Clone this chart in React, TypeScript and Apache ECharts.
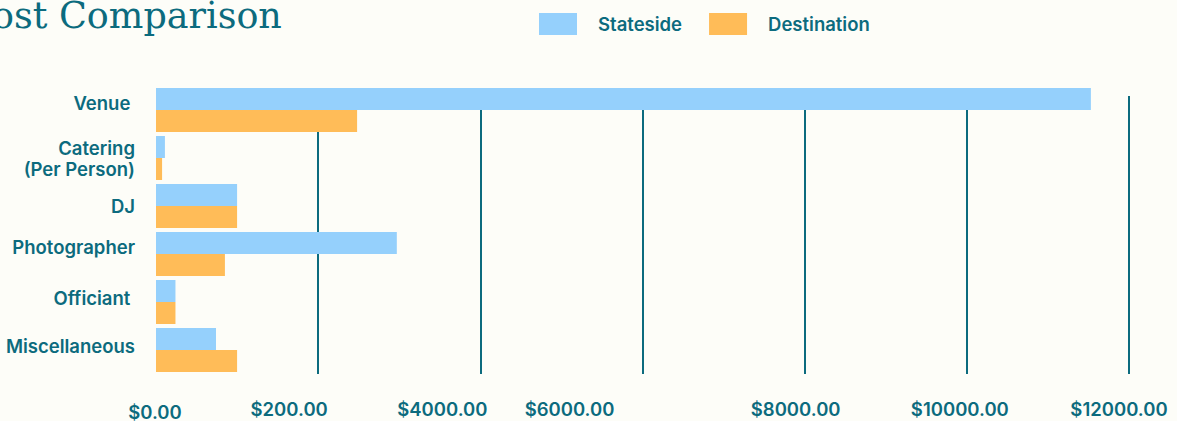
import React, { useEffect, useRef } from "react";
import * as echarts from "echarts";

const categories = ["Venue ", "Catering\n(Per Person)", "DJ", "Photographer", "Officiant ", "Miscellaneous"];
const seriesNames = ["Stateside", "Destination"];
const stateside = [11530, 110, 1000, 2970, 240, 740];
const destination = [2480, 75, 1000, 850, 240, 1000];
const xTickLabels = ["$0.00", "$200.00", "$4000.00", "$6000.00", "$8000.00", "$10000.00", "$12000.00"];
const titleText = "Cost Comparison";

const TEAL = "#0c6b7e";
const BLUE = "#95d0fc";
const ORANGE = "#ffbc58";
const BG = "#fdfdf8";
const SANS = "Inter, 'Noto Sans', sans-serif";
const FS = 18.5;
const FW = 600;

// horizontal shift (px, to the left) of each tick label, as in the source design
const xLabelShift = [1, 29, 38, 73, 9, 7, 10];
// vertical shift (px, upwards) of each category label, as in the source design
const yLabelShift = [7, 0, 0, 7, 4, 4];

export default function App() {
  const ref = useRef<HTMLDivElement>(null);
  useEffect(() => {
    if (!ref.current) return;
    const chart = echarts.init(ref.current, undefined, { renderer: "svg" });
    const xRich: Record<string, any> = {};
    xTickLabels.forEach((_, i) => {
      xRich["t" + i] = {
        color: TEAL,
        fontSize: FS,
        fontWeight: FW,
        fontFamily: SANS,
        padding: [i === 0 ? 3 : 0, xLabelShift[i] * 2, 0, 0],
      };
    });
    const yRich: Record<string, any> = {};
    categories.forEach((_, i) => {
      yRich["c" + i] = {
        color: TEAL,
        fontSize: FS,
        fontWeight: FW,
        fontFamily: SANS,
        padding: [0, 0, yLabelShift[i] * 2, 0],
      };
    });
    chart.setOption({
      animation: false,
      backgroundColor: BG,
      graphic: [
        {
          type: "text",
          x: -36,
          y: -3,
          style: {
            text: titleText,
            fill: TEAL,
            font: "36.5px 'DejaVu Serif', serif",
            verticalAlign: "top",
          },
        },
      ],
      legend: {
        data: seriesNames,
        left: 539,
        top: 13,
        padding: 0,
        icon: "rect",
        itemWidth: 38,
        itemHeight: 22,
        itemGap: 27,
        textStyle: {
          color: TEAL,
          fontSize: FS,
          fontWeight: FW,
          fontFamily: SANS,
          padding: [0, 0, 0, 16],
        },
      },
      grid: [
        { left: 156, right: 48, top: 86, bottom: 46 },
        { left: 156, right: 48, top: 96, bottom: 47 },
      ],
      xAxis: [
        {
          gridIndex: 0,
          type: "value",
          min: 0,
          max: 12000,
          interval: 2000,
          axisLine: { show: false },
          axisTick: { show: false },
          splitLine: { show: false },
          axisLabel: {
            margin: 25,
            formatter: (v: number) => {
              const i = Math.round(v / 2000);
              return `{t${i}|${xTickLabels[i]}}`;
            },
            rich: xRich,
          },
        },
        {
          gridIndex: 1,
          type: "value",
          min: 0,
          max: 12000,
          interval: 2000,
          axisLine: { show: false },
          axisTick: { show: false },
          axisLabel: { show: false },
          splitLine: {
            show: true,
            showMinLine: false,
            lineStyle: { color: TEAL, width: 2 },
          },
        },
      ],
      yAxis: [
        {
          gridIndex: 0,
          type: "category",
          data: categories,
          inverse: true,
          axisLine: { show: false },
          axisTick: { show: false },
          axisLabel: {
            margin: 21,
            color: TEAL,
            fontSize: FS,
            fontWeight: FW,
            fontFamily: SANS,
            lineHeight: 21,
            align: "right",
            formatter: (v: string, i: number) =>
              v.indexOf("\n") >= 0 ? v : `{c${i}|${v}}`,
            rich: yRich,
          },
        },
        {
          gridIndex: 1,
          type: "value",
          min: 0,
          max: 1,
          show: false,
          splitLine: { show: false },
        },
      ],
      series: [
        {
          name: seriesNames[0],
          type: "bar",
          xAxisIndex: 0,
          yAxisIndex: 0,
          data: stateside,
          itemStyle: { color: BLUE },
          barWidth: 22,
          barGap: "0%",
          z: 3,
        },
        {
          name: seriesNames[1],
          type: "bar",
          xAxisIndex: 0,
          yAxisIndex: 0,
          data: destination,
          itemStyle: { color: ORANGE },
          barWidth: 22,
          barGap: "0%",
          z: 3,
        },
      ],
    });
    return () => chart.dispose();
  }, []);
  return (
    <div
      ref={ref}
      style={{ position: "fixed", left: 0, top: 0, width: 1177, height: 421, background: BG }}
    />
  );
}
